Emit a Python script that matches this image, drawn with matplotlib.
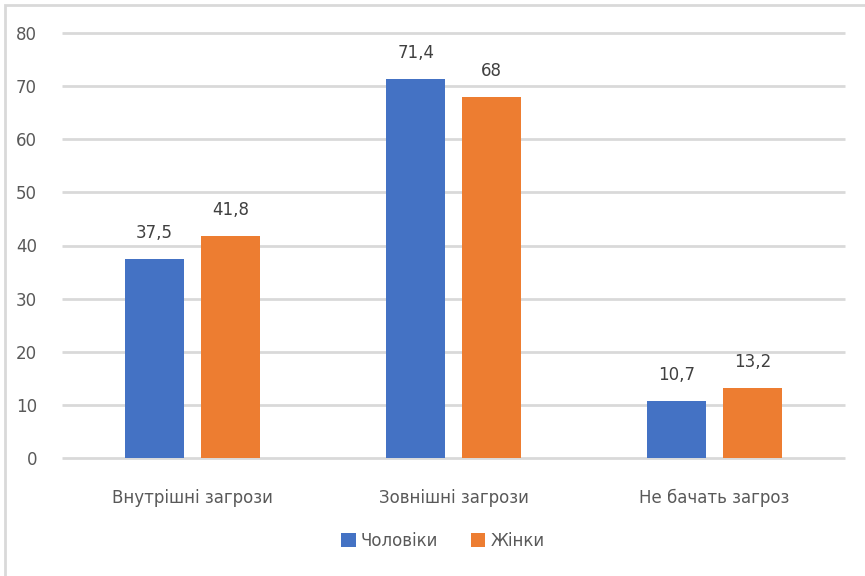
import matplotlib.pyplot as plt
import numpy as np
from matplotlib.patches import Rectangle

categories = ["Внутрішні загрози", "Зовнішні загрози", "Не бачать загроз"]
series_names = ["Чоловіки", "Жінки"]
men = [37.5, 71.4, 10.7]
women = [41.8, 68, 13.2]
y_ticks = [0, 10, 20, 30, 40, 50, 60, 70, 80]

BLUE = "#4472C4"
ORANGE = "#ED7D31"
GRID = "#D9D9D9"
TEXT = "#595959"

plt.rcParams["font.family"] = ["DejaVu Sans"]

fig = plt.figure(figsize=(8.65, 5.76), dpi=100)
ax = fig.add_axes([62 / 865, 1 - 458 / 576, 783 / 865, 425 / 576])

x = np.arange(len(categories))
width = 0.226
offset = 0.145

bars_m = ax.bar(x - offset, men, width, color=BLUE, label=series_names[0], zorder=3)
bars_w = ax.bar(x + offset, women, width, color=ORANGE, label=series_names[1], zorder=3)


def fmt(v):
    s = f"{v:g}"
    return s.replace(".", ",")


for bars, vals in ((bars_m, men), (bars_w, women)):
    for b, v in zip(bars, vals):
        ax.annotate(fmt(v), (b.get_x() + b.get_width() / 2, v),
                    xytext=(0, 12), textcoords="offset points",
                    ha="center", va="bottom", fontsize=12, color="#404040")

ax.set_xlim(-0.5, len(categories) - 0.5)
ax.set_ylim(0, 80)
ax.set_yticks(y_ticks)
ax.set_yticklabels([str(t) for t in y_ticks], fontsize=12, color=TEXT)
ax.set_xticks(x)
ax.set_xticklabels(categories, fontsize=12, color=TEXT)
ax.tick_params(axis="both", length=0)
ax.tick_params(axis="y", pad=18)
ax.tick_params(axis="x", pad=22)

# horizontal gridlines, unclipped so the 0 and 80 lines keep full width
for t in y_ticks:
    ax.axhline(t, color=GRID, linewidth=2.0, zorder=1, clip_on=False,
               solid_capstyle="butt")
for sp in ax.spines.values():
    sp.set_visible(False)

leg = fig.legend(loc="center", bbox_to_anchor=(443 / 865, 1 - 541 / 576),
                 ncol=2, frameon=False, fontsize=12,
                 handlelength=0.85, handleheight=0.9, handletextpad=0.3,
                 columnspacing=2.0)
for t in leg.get_texts():
    t.set_color(TEXT)

# light outer frame of the chart area
fig.patches.append(Rectangle((4.5 / 865, -0.1), 1.2, 1 - 4.5 / 576 + 0.1,
                             transform=fig.transFigure, fill=False,
                             edgecolor=GRID, linewidth=2.0))

fig.savefig("out.png", dpi=100)
